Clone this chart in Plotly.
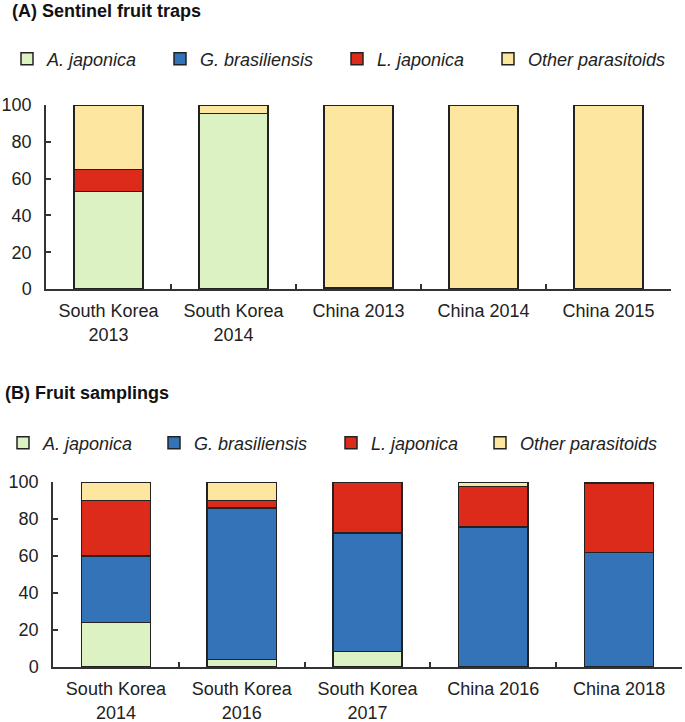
import plotly.graph_objects as go

# Panel A: sentinel fruit traps (% of parasitoids)
cats_a = ["South Korea<br>2013", "South Korea<br>2014", "China 2013", "China 2014", "China 2015"]
a_japonica_a = [53, 95.3, 0, 0, 0]
g_bras_a = [0, 0, 0, 0, 0]
l_japonica_a = [12, 0, 0.5, 0, 0]
other_a = [35, 4.7, 99.5, 100, 100]

# Panel B: fruit samplings
cats_b = ["South Korea<br>2014", "South Korea<br>2016", "South Korea<br>2017", "China 2016", "China 2018"]
a_japonica_b = [24, 4, 8.5, 0, 0]
g_bras_b = [36, 82, 64, 75.6, 62]
l_japonica_b = [30, 4, 27.5, 22, 37.3]
other_b = [10, 10, 0, 2.4, 0.7]

names = ["<i>A. japonica</i>", "<i>G. brasiliensis</i>", "<i>L. japonica</i>", "<i>Other parasitoids</i>"]
colors = ["#DDF2C2", "#3473B8", "#DC2B1A", "#FCE6A0"]
leg_widths_a = [108, 132, 106, 137]
leg_widths_b = [106, 132, 104, 137]

font_family = "Liberation Sans, Arial, sans-serif"

fig = go.Figure()

for vals, name, col, lw in zip([a_japonica_a, g_bras_a, l_japonica_a, other_a], names, colors, leg_widths_a):
    fig.add_trace(go.Bar(
        x=cats_a, y=vals, name=name, xaxis="x", yaxis="y",
        marker=dict(color=col, line=dict(color="#222222", width=1.5)),
        width=0.55, legend="legend", legendwidth=lw,
    ))

for vals, name, col, lw in zip([a_japonica_b, g_bras_b, l_japonica_b, other_b], names, colors, leg_widths_b):
    fig.add_trace(go.Bar(
        x=cats_b, y=vals, name=name, xaxis="x2", yaxis="y2",
        marker=dict(color=col, line=dict(color="#222222", width=1.5)),
        width=0.55, legend="legend2", legendwidth=lw,
    ))

W, H = 685, 722

xax = dict(
    type="category", showline=True, linecolor="#333333", linewidth=1.5,
    ticks="inside", ticklen=5, tickcolor="#333333", tickwidth=1.5,
    tickson="boundaries", showgrid=False, zeroline=False,
    tickfont=dict(family=font_family, size=18, color="#222222"),
    ticklabelstandoff=5, automargin=False, fixedrange=True,
)
yax = dict(
    range=[0, 100], dtick=20, showline=True, linecolor="#333333", linewidth=1.5,
    ticks="inside", ticklen=5, tickcolor="#333333", tickwidth=1.5,
    showgrid=False, zeroline=False,
    tickfont=dict(family=font_family, size=18, color="#222222"),
    ticklabelstandoff=9, automargin=False, fixedrange=True,
)

leg = dict(
    orientation="h", xanchor="left", yanchor="middle",
    font=dict(family=font_family, size=18, color="#222222"),
    itemwidth=30, traceorder="normal", bgcolor="rgba(0,0,0,0)",
)

fig.update_layout(
    width=W, height=H,
    margin=dict(l=0, r=0, t=0, b=0, autoexpand=False),
    barmode="stack",
    plot_bgcolor="white", paper_bgcolor="white",
    xaxis=dict(xax, domain=[46 / W, 671 / W], anchor="y"),
    yaxis=dict(yax, domain=[1 - 289 / H, 1 - 105 / H], anchor="x"),
    xaxis2=dict(xax, domain=[53 / W, 682 / W], anchor="y2"),
    yaxis2=dict(yax, domain=[1 - 667 / H, 1 - 482 / H], anchor="x2"),
    legend=dict(leg, x=7 / W, y=1 - 59 / H),
    legend2=dict(leg, x=3 / W, y=1 - 443 / H),
    annotations=[
        dict(text="<b>(A) Sentinel fruit traps</b>", x=10 / W, y=1 - 11 / H,
             xref="paper", yref="paper", xanchor="left", yanchor="middle",
             showarrow=False, font=dict(family=font_family, size=18, color="#111111")),
        dict(text="<b>(B) Fruit samplings</b>", x=3 / W, y=1 - 393 / H,
             xref="paper", yref="paper", xanchor="left", yanchor="middle",
             showarrow=False, font=dict(family=font_family, size=18, color="#111111")),
    ],
)

fig.write_html("out.html", config={"displayModeBar": False},
               post_script="document.body.style.margin='0';")
